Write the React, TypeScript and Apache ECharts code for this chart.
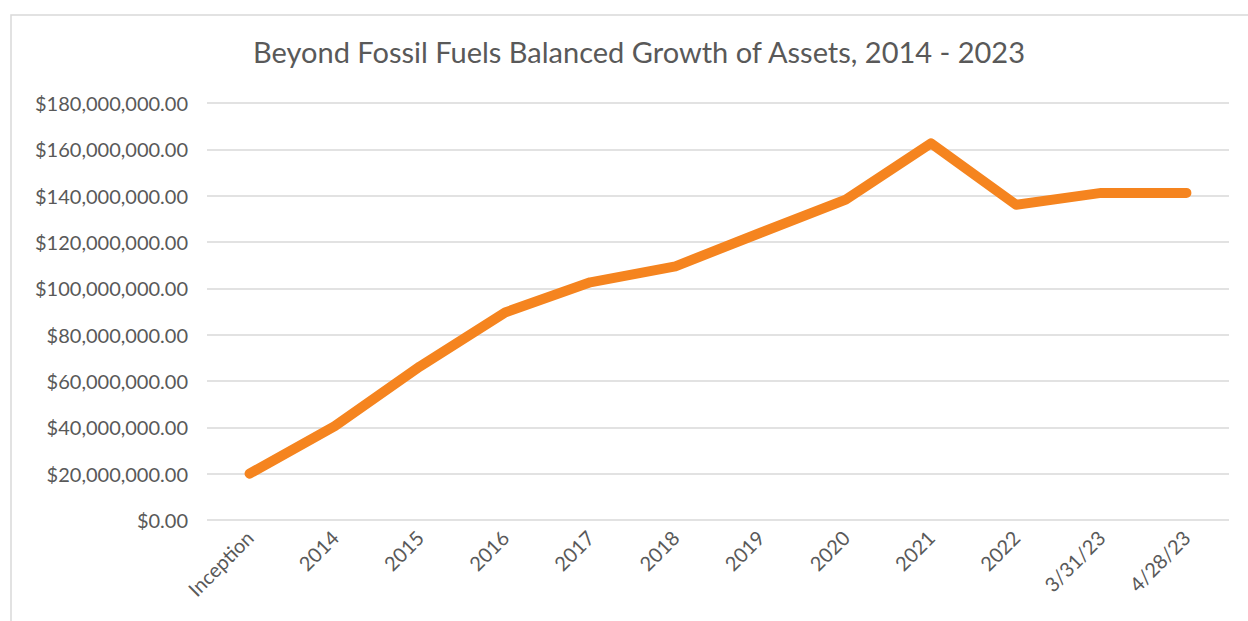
import React, { useEffect, useRef } from "react";
import * as echarts from "echarts";

const categories = ["Inception", "2014", "2015", "2016", "2017", "2018", "2019", "2020", "2021", "2022", "3/31/23", "4/28/23"];
const assets = [20000000, 40500000, 66300000, 89600000, 102600000, 109500000, 124000000, 138300000, 162600000, 136100000, 141200000, 141200000];
const titleText = "Beyond Fossil Fuels Balanced Growth of Assets, 2014 - 2023";

const FONT = "Lato, 'Open Sans', sans-serif";

export default function App() {
  const ref = useRef<HTMLDivElement>(null);
  useEffect(() => {
    if (!ref.current) return;
    const chart = echarts.init(ref.current, undefined, { renderer: "svg" });
    chart.setOption({
      animation: false,
      backgroundColor: "#ffffff",
      title: {
        text: titleText,
        left: 634,
        top: 32,
        textAlign: "center",
        textStyle: { fontFamily: FONT, fontSize: 29, fontWeight: "normal", color: "#595959" },
      },
      graphic: [
        {
          type: "rect",
          shape: { x: 11, y: 15, width: 1300, height: 700 },
          style: { fill: "none", stroke: "#d9d9d9", lineWidth: 1.5 },
          silent: true,
        },
      ],
      grid: { left: 207, right: 19, top: 103, bottom: 101 },
      xAxis: {
        type: "category",
        data: categories,
        boundaryGap: true,
        axisLine: { show: false },
        axisTick: { show: false },
        axisLabel: {
          rotate: 45,
          margin: 14,
          fontFamily: FONT,
          fontSize: 20,
          color: "#595959",
          interval: 0,
        },
      },
      yAxis: {
        type: "value",
        min: 0,
        max: 180000000,
        interval: 20000000,
        axisLine: { show: false },
        axisTick: { show: false },
        splitLine: { lineStyle: { color: "#d9d9d9", width: 1.5 } },
        axisLabel: {
          margin: 19,
          fontFamily: FONT,
          fontSize: 20,
          color: "#595959",
          formatter: (v: number) =>
            "$" + v.toLocaleString("en-US", { minimumFractionDigits: 2, maximumFractionDigits: 2 }),
        },
      },
      series: [
        {
          type: "line",
          data: assets,
          showSymbol: false,
          symbol: "none",
          lineStyle: { color: "#F5841F", width: 10, cap: "round", join: "round" },
        },
      ],
    });
    return () => chart.dispose();
  }, []);
  return <div ref={ref} style={{ position: "fixed", left: 0, top: 0, width: 1248, height: 621 }} />;
}
